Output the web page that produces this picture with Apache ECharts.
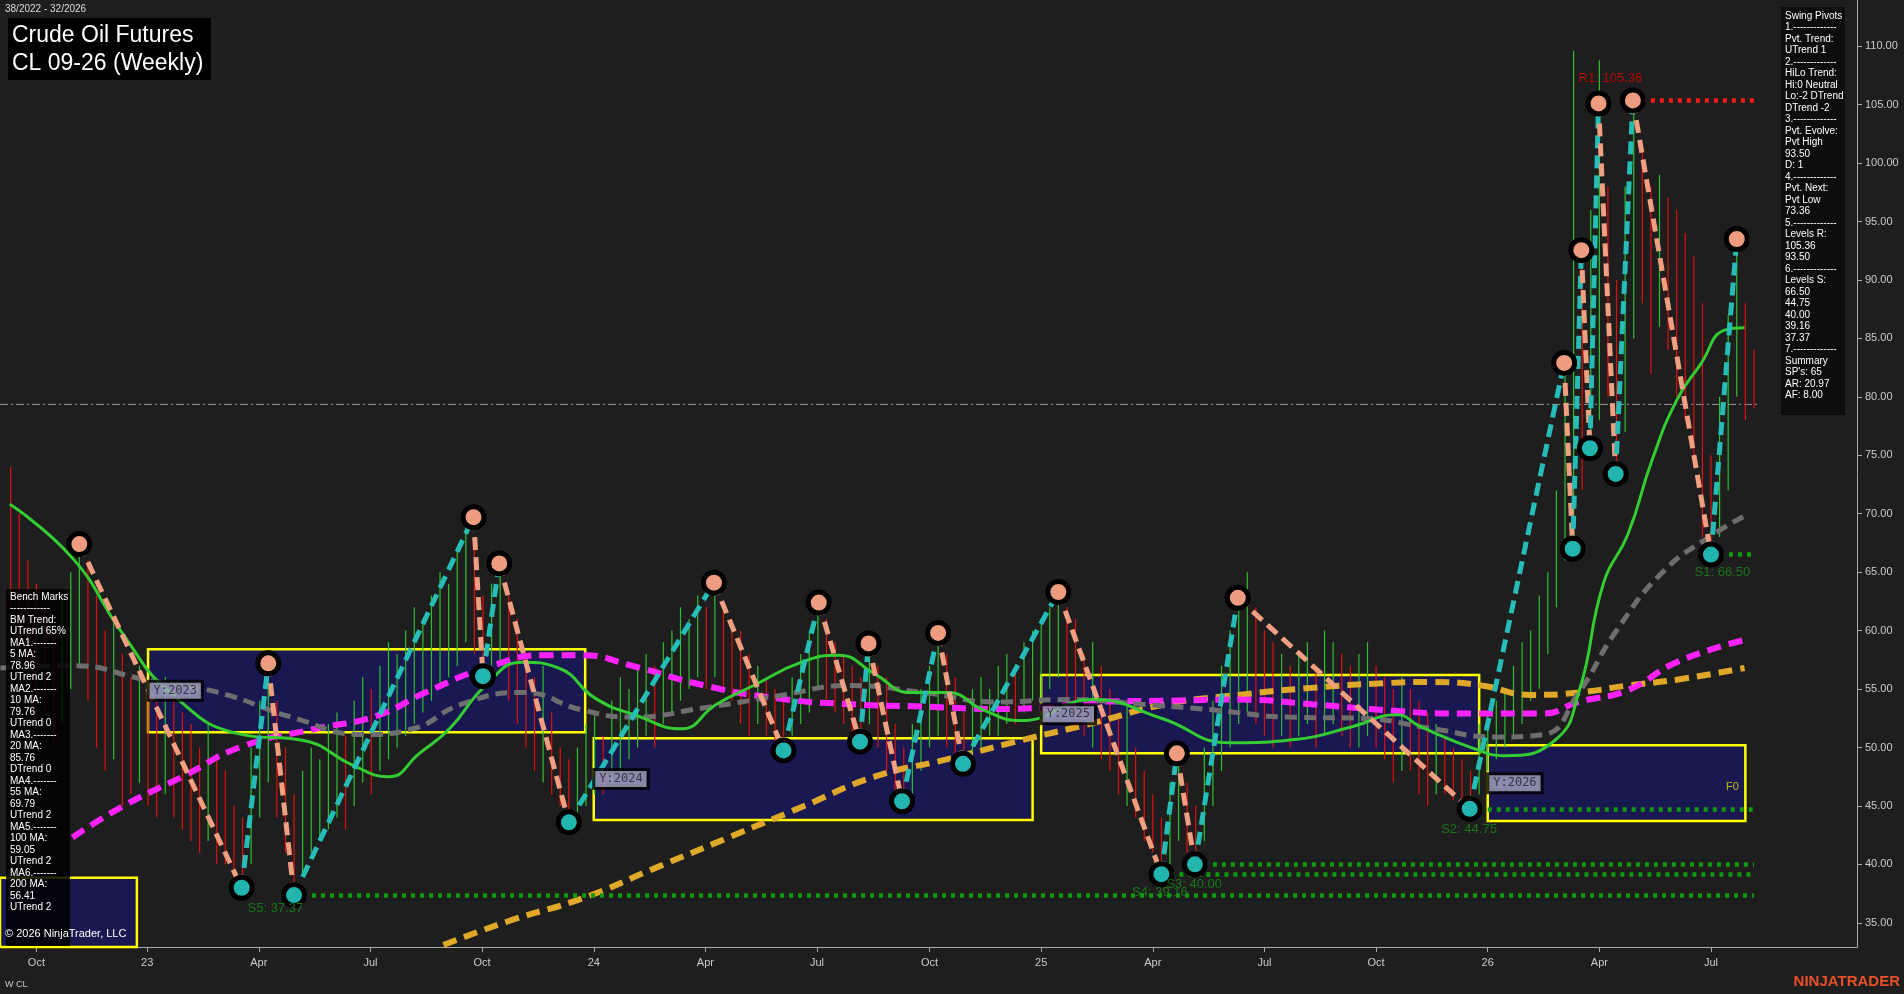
<!DOCTYPE html>
<html><head><meta charset="utf-8">
<script src="https://cdn.jsdelivr.net/npm/echarts@6/dist/echarts.min.js"></script>
<style>html,body{margin:0;padding:0;background:#1e1e1e}#c{width:1904px;height:994px}</style>
</head><body><div id="c"></div>
<script>
// week index 0 = start of Oct 2022
const firstWeek = -3;
const highs = [74,70,66,64,62,60,63,65,67.4,
66,63,60,61,58,56,57,55,54,56,55,53,52,50,52,49,48,45,44,
50,54,57.2,54,50,46,
48,50,49,52,53,51,54,56,55,57,59,58,60,62,61,63,65,64,67,69.7,
67,63,64,65.75,
63,61,58,56,57,53,50,49,
50,52,53,51,54,56,55,57,58,57,59,60,62,61,63,62,64.1,
62,61,60,58,57,56,55,54,
56,58,60,62.4,
61,59,58,57,56,
58.9,
57,56,52,50,
52,55,57,59.8,
58,56,53,
55,56,55,57,58,57,59,60,61,62,63.3,
62,61,58,59,57,55,53,54,50,48,46,44,
47,49.5,
47,45,
50,54,57,60,62.8,
65,62,60,59,58,57,58,59,57,60,59,58,57,58,59,57,56,55,56,55,54,53,52,51,50,49,48,
52,53,54,55,57,59,60,63,65,72,82.9,
109.6,92.5,96,108.8,98,90,98,105.36,101,98,99,97,96,94,92,88,75,80,87,93.5,88,84];
const lows = [62,58,56,52,53,50,52,55,57,
54,50,48,49,45,46,47,45,44,46,44,43,42,41,42,40,40,38.5,38,
40,44,47,44,41,37.4,
39,41,42,43,44,43,45,47,46,48,49,50,51,52,53,54,55,56,57,59,
58,56.1,57,57,
54,52,50,48,47,46,45,43.6,
44.5,45,46,46,47,48,49,50,51,50,52,53,54,55,56,55,56,
55,54,52,51,52,51,50.5,49.75,
51,52,53,55,
54,53,52,51,50.5,
52,
50,48,46,45.4,
46,48,50,51,
50,49.5,48.6,
49,50,51,51,52,52,53,54,54,55,56,
54,52,51,50,49,48,46,45,44,42,41,39.4,
40,42,
41,40.1,
42,45,48,50,52,
53,52,51,50,51,50,51,52,50,51,52,51,50,50,51,50,49,47,48,48,46,45,46,46,45.5,45.2,45,
46,48,49,50,51,52,54,55,58,62,66,
67,72,75.6,78,80,73.4,77,85,88,82,86,84,80,78,74,68,66.5,68,72,80,78,79];

// swing pivots [week, price]
const pivots = [[5,67.4],[23.9,38.0],[27,57.2],[30,37.37],[50.9,69.7],[52,56.1],[53.9,65.75],[62,43.6],
[78.9,64.1],[87,49.75],[91.1,62.4],[95.9,50.5],[96.9,58.9],[100.8,45.4],[105,59.8],[107.9,48.6],
[119,63.3],[131,39.16],[132.8,49.5],[134.9,40.0],[139.9,62.8],[166.9,44.75],[177.9,82.9],[178.9,67.0],
[179.9,92.55],[180.9,75.6],[181.9,105.1],[183.9,73.4],[185.9,105.36],[195,66.5],[198,93.5]];

const maFast = [[-3.1,70.8],[4.2,66.2],[9.9,59.9],[15.6,54.7],[24,51.1],[31.1,50.6],[36.8,48.5],[41,47.5],[44.6,49.5],[48.1,51.6],[52.3,55.3],[56.6,57.3],[60.8,56.8],[65.1,54.2],[70,52.7],[75,51.6],[79.2,53.7],[83.5,55.3],[89.1,57.3],[93.4,57.9],[97.6,56.3],[101.8,54.7],[106.1,54.7],[110.3,53.2],[114.6,52.3],[123,54.1],[131,52.5],[139,50.4],[146.8,50.7],[153.3,51.8],[158.4,52.8],[161.1,51.8],[167.8,49.8],[170.9,49.3],[176.8,50.6],[179.6,54.7],[182.5,64.1],[185.3,68.2],[188.1,74.5],[191,79.7],[193.8,82.8],[196.6,85.7],[198.9,85.9]];
const maGrey = [[-4.2,56.8],[4.2,57.0],[12.7,55.8],[21.2,54.7],[29.7,52.6],[38.2,51.1],[43.8,51.6],[49.5,53.7],[56.6,54.7],[63.6,53.2],[69.3,52.6],[77.8,53.4],[86.3,54.4],[94.8,55.3],[103.3,54.7],[111.7,53.9],[120.2,54.1],[128.7,53.7],[137.2,53.2],[145.7,52.6],[154.2,52.5],[162.7,51.6],[169.7,50.9],[175.4,51.1],[179.6,54.7],[183.9,59.9],[189.5,65.1],[195.2,68.2],[198.9,69.8]];
const maMagenta = [[4.2,42.3],[9.9,44.9],[17,47.5],[24,50.1],[32.5,51.6],[39.6,52.7],[45.3,54.7],[52.3,56.8],[59.4,57.9],[63.6,57.9],[69.3,57.0],[77.8,55.3],[86.3,54.2],[94.8,53.7],[103.3,53.5],[111.7,53.3],[117.4,53.4],[123.1,53.9],[131.5,54.0],[140,54.1],[148.5,53.7],[157,53.2],[165.5,52.9],[175.4,52.9],[179.6,53.9],[185.3,54.9],[191,57.3],[198.9,59.2]];
const maGold = [[47.4,33.1],[55.2,35.2],[63.6,37.1],[72.1,39.7],[80.6,42.3],[89.1,44.9],[97.6,47.5],[106.1,49.0],[114.6,50.6],[123.1,52.1],[131.5,53.7],[140,54.5],[148.5,55.1],[157,55.5],[162.7,55.6],[168.3,55.3],[174,54.5],[179.6,54.7],[185.3,55.3],[191,55.8],[198.9,56.8]];

// yearly boxes [startWeek, endWeek, top, bottom, label]
const boxes = [[-4.3,11.7,38.85,32.9,''],[13,63.9,58.4,51.3,'Y:2023'],[64.9,116,50.8,43.8,'Y:2024'],[117,168,56.2,49.5,'Y:2025'],[169,199,50.2,43.7,'Y:2026']];
// support / resistance levels [startWeek, price, kind]
const levels = [[185.9,105.36,'R'],[198,93.5,'R'],[195,66.5,'S'],[166.9,44.75,'S'],[134.9,40.0,'S'],[131,39.16,'S'],[30,37.37,'S']];
const levelLabels = [['R1: 105.36',179,107.2,'#e00000'],['S1: 66.50',192.5,65.0,'#1a8a1a'],['S2: 44.75',163,43.0,'#1a8a1a'],['S3: 40.00',131,38.3,'#1a8a1a'],['S4: 39.16',127,37.6,'#1a8a1a'],['S5: 37.37',24,36.2,'#1a8a1a']];
const tickWeeks = [0,12.9,25.9,38.9,51.9,64.9,77.9,90.9,104,117,130,143,156,169,182,195];
const tickLabels = ['Oct','23','Apr','Jul','Oct','24','Apr','Jul','Oct','25','Apr','Jul','Oct','26','Apr','Jul'];
const yTicks = [35,40,45,50,55,60,65,70,75,80,85,90,95,100,105,110];
const swingText = ['Swing Pivots','1.-------------','Pvt. Trend:','UTrend 1','2.-------------','HiLo Trend:','Hi:0 Neutral','Lo:-2 DTrend','DTrend -2','3.-------------','Pvt. Evolve:','Pvt High','93.50','D: 1','4.-------------','Pvt. Next:','Pvt Low','73.36','5.-------------','Levels R:','105.36','93.50','6.-------------','Levels S:','66.50','44.75','40.00','39.16','37.37','7.-------------','Summary',"SP's: 65",'AR: 20.97','AF: 8.00'];
const benchText = ['Bench Marks','------------','BM Trend:','UTrend 65%','MA1.-------','5 MA:','78.96','UTrend 2','MA2.-------','10 MA:','79.76','UTrend 0','MA3.-------','20 MA:','85.76','DTrend 0','MA4.-------','55 MA:','69.79','UTrend 2','MA5.-------','100 MA:','59.05','UTrend 2','MA6.-------','200 MA:','56.41','UTrend 2'];

const bars = highs.map((h,i)=>[firstWeek+i, lows[i], h, i>0 && (h+lows[i]) >= (highs[i-1]+lows[i-1]) ? 1 : 0]);
const chart = echarts.init(document.getElementById('c'));
const legLines = [];
for (let i=0;i<pivots.length-1;i++){
  const up = pivots[i+1][1] > pivots[i][1];
  legLines.push({coords:[pivots[i],pivots[i+1]], lineStyle:{color: up ? '#26bcb8' : '#f0a080'}});
}
const levelLines = levels.map(l=>({coords:[[l[0],l[1]],[200,l[1]]], lineStyle:{color: l[2]==='R' ? '#ff1a1a' : '#0f9a0f'}}));
const font = 'Arial, "Liberation Sans", sans-serif';
chart.setOption({
  backgroundColor:'#1e1e1e',
  animation:false,
  grid:{left:0,right:47,top:0,bottom:47},
  xAxis:{type:'value',min:-4.24,max:212,
    axisLine:{show:true,onZero:false,lineStyle:{color:'#aaaaaa'}},
    axisTick:{show:true,customValues:tickWeeks,length:5,lineStyle:{color:'#aaaaaa'}},
    axisLabel:{customValues:tickWeeks,formatter:(v)=>{const k=tickWeeks.indexOf(v);return k>=0?tickLabels[k]:'';},color:'#cccccc',fontSize:11,fontFamily:font,margin:10},
    splitLine:{show:false}},
  yAxis:{type:'value',position:'right',min:32.93,max:113.95,
    axisLine:{show:true,onZero:false,lineStyle:{color:'#aaaaaa'}},
    axisTick:{show:true,customValues:yTicks,length:5,lineStyle:{color:'#aaaaaa'}},
    axisLabel:{customValues:yTicks,formatter:(v)=>v.toFixed(2),color:'#cccccc',fontSize:11,fontFamily:font,margin:8},
    splitLine:{show:false}},
  series:[
    {type:'line',data:[[-4.24,79.35],[200.5,79.35]],symbol:'none',lineStyle:{color:'#999',width:1,type:[8,3,2,3]},z:1,silent:true},
    {type:'custom',z:2,data:bars,renderItem:(p,api)=>{
      const a=api.coord([api.value(0),api.value(1)]), b=api.coord([api.value(0),api.value(2)]);
      return {type:'line',shape:{x1:a[0],y1:a[1],x2:b[0],y2:b[1]},style:{stroke:api.value(3)?'#2fc02f':'#e01010',lineWidth:1.2}};
    }},
    {type:'line',data:maGold,smooth:true,symbol:'none',lineStyle:{color:'#e0a828',width:6,type:[14,8]},z:3},
    {type:'line',data:maMagenta,smooth:true,symbol:'none',lineStyle:{color:'#ff22ff',width:6,type:[14,8]},z:3},
    {type:'line',data:maGrey,smooth:true,symbol:'none',lineStyle:{color:'#6e6e6e',width:5,type:[12,7]},z:3},
    {type:'line',data:maFast,smooth:true,symbol:'none',lineStyle:{color:'#33cc33',width:3},z:3},
    {type:'lines',coordinateSystem:'cartesian2d',data:levelLines,lineStyle:{width:4.5,type:[4,5],opacity:1},z:4},
    {type:'lines',coordinateSystem:'cartesian2d',data:legLines,lineStyle:{width:5,type:[13,7],opacity:1},z:5},
    {type:'scatter',data:pivots.map((p,i)=>({value:p,itemStyle:{color:(i<pivots.length-1?pivots[i+1][1]<p[1]:p[1]>pivots[i-1][1])?'#ee9c80':'#22b5b0'}})),symbolSize:21,itemStyle:{borderColor:'#000',borderWidth:5,opacity:1},z:6},
    {type:'line',data:[],z:7,markArea:{silent:true,itemStyle:{color:'rgba(24,22,92,0.8)',borderColor:'#ffff00',borderWidth:2.5},
      data:boxes.map(b=>[{coord:[b[0],b[2]]},{coord:[b[1],b[3]]}])}},
    {type:'scatter',z:8,symbolSize:1,data:boxes.filter(b=>b[4]).map(b=>({value:[b[0],(b[2]+b[3])/2],label:{show:true,formatter:b[4],position:'right',offset:[-4,0],color:'#222',backgroundColor:'#a8a8c8',borderColor:'#000',borderWidth:3,padding:[2,4],fontFamily:'"DejaVu Sans Mono", monospace',fontSize:12}}))},
    {type:'scatter',z:8,symbolSize:0,data:levelLabels.map(l=>({value:[l[1],l[2]],label:{show:true,formatter:l[0],position:'right',color:l[3],fontSize:13,fontFamily:font}}))},
    {type:'scatter',z:8,symbolSize:0,data:[{value:[197.5,46.6],label:{show:true,formatter:'F0',position:'inside',color:'#e6e600',fontSize:11,fontFamily:font}}]}
  ],
  graphic:[
    {type:'text',left:5,top:4,style:{text:'38/2022 - 32/2026',fill:'#ddd',font:'10px Arial'}},
    {type:'rect',shape:{x:8,y:18,width:203,height:62},style:{fill:'#000'}},
    {type:'text',left:12,top:22,style:{text:'Crude Oil Futures\nCL 09-26 (Weekly)',fill:'#fff',font:'23px Arial',lineHeight:28}},
    {type:'rect',z:100,shape:{x:1781,y:7,width:64,height:408},style:{fill:'#0d0d0d'}},
    {type:'text',z:101,left:1785,top:10,style:{text:swingText.join('\n'),fill:'#fff',font:'10px Arial',lineHeight:11.5}},
    {type:'rect',z:100,shape:{x:6,y:589,width:64,height:357},style:{fill:'rgba(0,0,0,0.85)'}},
    {type:'text',z:101,left:10,top:591,style:{text:benchText.join('\n'),fill:'#fff',font:'10px Arial',lineHeight:11.5}},
    {type:'text',z:101,left:5,top:928,style:{text:'© 2026 NinjaTrader, LLC',fill:'#fff',font:'11px Arial'}},
    {type:'text',left:5,top:980,style:{text:'W CL',fill:'#ccc',font:'9px Arial'}},
    {type:'text',right:4,top:974,style:{text:'NINJATRADER',fill:'#e8502a',font:'bold 15px Arial'}}
  ]
});
</script></body></html>
